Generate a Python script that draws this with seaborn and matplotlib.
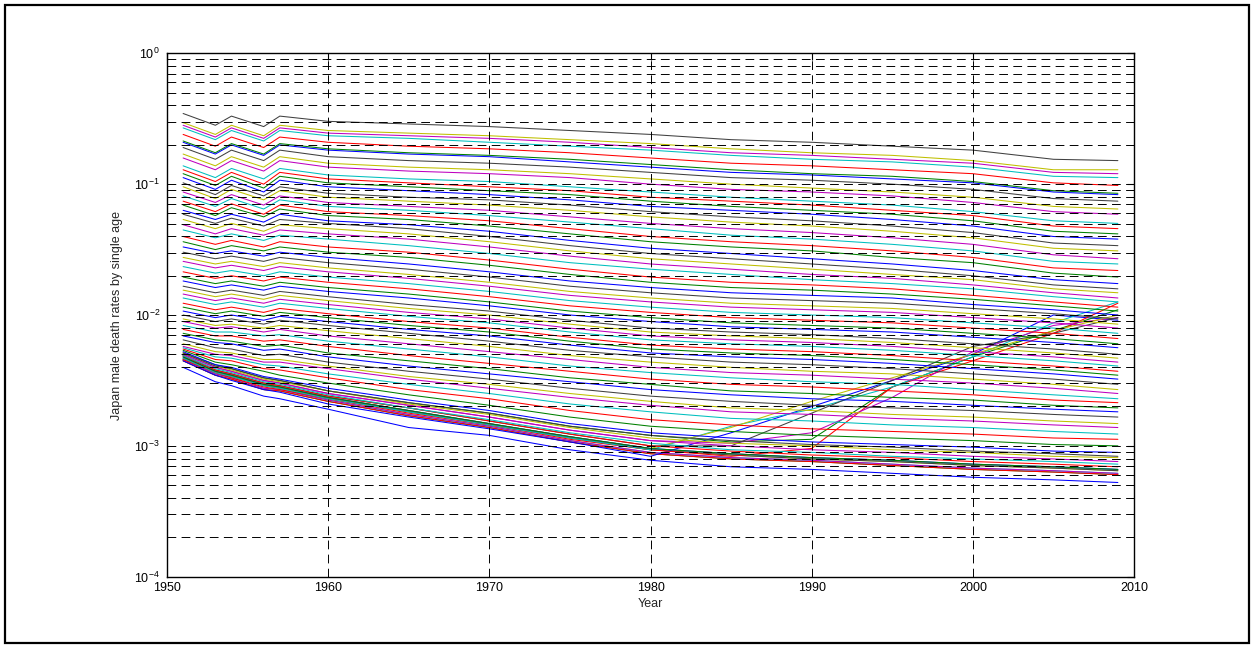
import numpy as np
import pandas as pd
import matplotlib
matplotlib.use("Agg")
import matplotlib.pyplot as plt
import seaborn as sns
from matplotlib.patches import Rectangle
from matplotlib.ticker import LogLocator, NullFormatter, FixedLocator

# ---------------- data (log10 of death rate), ages 20..89 ----------------
YEARS = [1951, 1953, 1954, 1956, 1957, 1960, 1965, 1970, 1975, 1980, 1985, 1990, 1995, 2000, 2005, 2009]
AGES = list(range(20, 90))

LOG10_RATE_1951 = [-2.40, -2.35, -2.35, -2.34, -2.34, -2.33, -2.33, -2.32, -2.32, -2.31,
                   -2.31, -2.30, -2.29, -2.29, -2.28, -2.27, -2.26, -2.25, -2.24, -2.22,
                   -2.19, -2.16, -2.14, -2.11, -2.08, -2.05, -2.03, -2.00, -1.97, -1.94,
                   -1.91, -1.87, -1.84, -1.81, -1.78, -1.74, -1.71, -1.67, -1.63, -1.59,
                   -1.56, -1.52, -1.48, -1.44, -1.40, -1.35, -1.31, -1.27, -1.23, -1.20,
                   -1.16, -1.13, -1.09, -1.06, -1.02, -0.99, -0.95, -0.92, -0.89, -0.86,
                   -0.80, -0.77, -0.72, -0.68, -0.67, -0.62, -0.57, -0.55, -0.53, -0.46]
LOG10_RATE_1953 = [-2.51, -2.46, -2.46, -2.45, -2.45, -2.44, -2.44, -2.43, -2.43, -2.42,
                   -2.41, -2.40, -2.39, -2.39, -2.38, -2.36, -2.34, -2.32, -2.30, -2.28,
                   -2.25, -2.21, -2.19, -2.16, -2.13, -2.10, -2.08, -2.05, -2.02, -1.99,
                   -1.96, -1.92, -1.89, -1.86, -1.83, -1.79, -1.76, -1.72, -1.68, -1.64,
                   -1.61, -1.57, -1.53, -1.50, -1.46, -1.41, -1.38, -1.34, -1.30, -1.27,
                   -1.24, -1.21, -1.17, -1.14, -1.11, -1.08, -1.04, -1.01, -0.98, -0.95,
                   -0.89, -0.86, -0.81, -0.77, -0.76, -0.71, -0.66, -0.64, -0.62, -0.55]
LOG10_RATE_1954 = [-2.54, -2.49, -2.49, -2.48, -2.48, -2.47, -2.47, -2.46, -2.46, -2.45,
                   -2.44, -2.43, -2.42, -2.41, -2.40, -2.38, -2.35, -2.33, -2.31, -2.29,
                   -2.26, -2.22, -2.20, -2.16, -2.13, -2.09, -2.07, -2.03, -2.00, -1.97,
                   -1.94, -1.90, -1.87, -1.84, -1.81, -1.77, -1.74, -1.70, -1.66, -1.62,
                   -1.59, -1.55, -1.51, -1.47, -1.43, -1.38, -1.34, -1.30, -1.26, -1.23,
                   -1.18, -1.15, -1.11, -1.08, -1.04, -1.01, -0.97, -0.94, -0.91, -0.88,
                   -0.82, -0.79, -0.74, -0.70, -0.69, -0.64, -0.59, -0.57, -0.55, -0.48]
LOG10_RATE_1956 = [-2.62, -2.57, -2.57, -2.56, -2.56, -2.54, -2.54, -2.53, -2.53, -2.52,
                   -2.51, -2.50, -2.49, -2.48, -2.47, -2.43, -2.41, -2.38, -2.36, -2.34,
                   -2.31, -2.27, -2.24, -2.20, -2.16, -2.13, -2.10, -2.07, -2.04, -2.01,
                   -1.98, -1.94, -1.91, -1.88, -1.85, -1.81, -1.78, -1.74, -1.70, -1.66,
                   -1.63, -1.59, -1.55, -1.51, -1.48, -1.43, -1.39, -1.36, -1.32, -1.29,
                   -1.25, -1.23, -1.19, -1.16, -1.12, -1.09, -1.06, -1.03, -1.00, -0.96,
                   -0.90, -0.87, -0.82, -0.78, -0.77, -0.72, -0.67, -0.65, -0.63, -0.56]
LOG10_RATE_1957 = [-2.64, -2.58, -2.58, -2.57, -2.57, -2.56, -2.56, -2.55, -2.55, -2.54,
                   -2.53, -2.52, -2.51, -2.50, -2.49, -2.46, -2.42, -2.39, -2.36, -2.34,
                   -2.30, -2.26, -2.23, -2.19, -2.15, -2.11, -2.08, -2.04, -2.01, -1.98,
                   -1.95, -1.91, -1.88, -1.85, -1.82, -1.78, -1.75, -1.71, -1.67, -1.63,
                   -1.60, -1.56, -1.52, -1.48, -1.44, -1.39, -1.35, -1.31, -1.27, -1.23,
                   -1.19, -1.16, -1.12, -1.09, -1.05, -1.02, -0.97, -0.94, -0.91, -0.88,
                   -0.82, -0.79, -0.74, -0.70, -0.69, -0.64, -0.59, -0.57, -0.55, -0.48]
LOG10_RATE_1960 = [-2.72, -2.66, -2.66, -2.65, -2.65, -2.64, -2.64, -2.63, -2.63, -2.62,
                   -2.61, -2.60, -2.58, -2.58, -2.56, -2.52, -2.48, -2.45, -2.41, -2.39,
                   -2.36, -2.32, -2.29, -2.24, -2.20, -2.16, -2.12, -2.08, -2.05, -2.02,
                   -1.99, -1.95, -1.92, -1.89, -1.86, -1.82, -1.79, -1.75, -1.71, -1.67,
                   -1.64, -1.60, -1.56, -1.52, -1.48, -1.42, -1.38, -1.34, -1.30, -1.28,
                   -1.24, -1.21, -1.17, -1.14, -1.10, -1.07, -1.02, -0.99, -0.96, -0.93,
                   -0.87, -0.84, -0.79, -0.74, -0.73, -0.68, -0.63, -0.61, -0.59, -0.52]
LOG10_RATE_1965 = [-2.86, -2.77, -2.77, -2.76, -2.76, -2.74, -2.74, -2.73, -2.73, -2.71,
                   -2.71, -2.69, -2.68, -2.67, -2.65, -2.61, -2.57, -2.53, -2.49, -2.47,
                   -2.43, -2.39, -2.35, -2.31, -2.26, -2.22, -2.18, -2.14, -2.11, -2.08,
                   -2.05, -2.01, -1.98, -1.95, -1.92, -1.87, -1.84, -1.80, -1.76, -1.72,
                   -1.69, -1.65, -1.61, -1.56, -1.52, -1.47, -1.42, -1.38, -1.34, -1.31,
                   -1.27, -1.24, -1.20, -1.17, -1.13, -1.10, -1.05, -1.02, -0.99, -0.96,
                   -0.90, -0.87, -0.82, -0.77, -0.76, -0.71, -0.65, -0.63, -0.61, -0.54]
LOG10_RATE_1970 = [-2.92, -2.86, -2.86, -2.85, -2.85, -2.84, -2.84, -2.83, -2.83, -2.81,
                   -2.80, -2.78, -2.76, -2.75, -2.73, -2.69, -2.64, -2.60, -2.56, -2.53,
                   -2.49, -2.45, -2.41, -2.37, -2.32, -2.28, -2.24, -2.20, -2.16, -2.13,
                   -2.10, -2.06, -2.03, -2.00, -1.97, -1.93, -1.90, -1.86, -1.82, -1.78,
                   -1.75, -1.71, -1.67, -1.62, -1.58, -1.53, -1.48, -1.44, -1.40, -1.36,
                   -1.32, -1.28, -1.24, -1.20, -1.16, -1.12, -1.08, -1.05, -1.02, -0.98,
                   -0.92, -0.89, -0.84, -0.79, -0.78, -0.73, -0.68, -0.65, -0.63, -0.56]
LOG10_RATE_1975 = [-3.03, -2.97, -2.97, -2.96, -2.96, -2.94, -2.94, -2.93, -2.93, -2.91,
                   -2.90, -2.88, -2.86, -2.85, -2.83, -2.78, -2.73, -2.68, -2.63, -2.60,
                   -2.56, -2.51, -2.48, -2.43, -2.39, -2.34, -2.31, -2.27, -2.23, -2.20,
                   -2.17, -2.13, -2.10, -2.07, -2.04, -2.00, -1.97, -1.93, -1.89, -1.85,
                   -1.82, -1.78, -1.74, -1.69, -1.65, -1.60, -1.55, -1.51, -1.47, -1.43,
                   -1.38, -1.34, -1.29, -1.25, -1.20, -1.16, -1.12, -1.08, -1.05, -1.02,
                   -0.95, -0.92, -0.87, -0.83, -0.81, -0.76, -0.71, -0.68, -0.66, -0.59]
LOG10_RATE_1980 = [-3.11, -3.06, -3.06, -3.05, -3.05, -3.03, -3.03, -3.02, -3.02, -3.00,
                   -2.98, -2.96, -2.94, -2.92, -2.90, -2.85, -2.80, -2.74, -2.69, -2.66,
                   -2.62, -2.57, -2.53, -2.49, -2.44, -2.40, -2.36, -2.32, -2.29, -2.26,
                   -2.23, -2.19, -2.16, -2.13, -2.10, -2.05, -2.02, -1.98, -1.94, -1.90,
                   -1.87, -1.83, -1.79, -1.75, -1.71, -1.65, -1.61, -1.57, -1.53, -1.49,
                   -1.44, -1.40, -1.34, -1.30, -1.25, -1.21, -1.17, -1.13, -1.10, -1.06,
                   -1.00, -0.96, -0.91, -0.87, -0.85, -0.80, -0.74, -0.72, -0.69, -0.62]
LOG10_RATE_1985 = [-3.16, -3.10, -3.10, -3.09, -3.09, -3.07, -3.07, -3.06, -3.06, -3.04,
                   -3.03, -3.00, -2.98, -2.96, -2.94, -2.89, -2.84, -2.79, -2.74, -2.71,
                   -2.66, -2.61, -2.58, -2.53, -2.48, -2.44, -2.40, -2.36, -2.32, -2.29,
                   -2.26, -2.22, -2.19, -2.16, -2.13, -2.09, -2.06, -2.02, -1.98, -1.94,
                   -1.91, -1.87, -1.83, -1.79, -1.75, -1.69, -1.65, -1.61, -1.57, -1.53,
                   -1.48, -1.44, -1.39, -1.34, -1.29, -1.25, -1.20, -1.17, -1.13, -1.10,
                   -1.04, -1.00, -0.95, -0.91, -0.89, -0.84, -0.78, -0.76, -0.73, -0.66]
LOG10_RATE_1990 = [-3.18, -3.12, -3.12, -3.11, -3.11, -3.10, -3.10, -3.09, -3.09, -3.07,
                   -3.05, -3.03, -3.00, -2.99, -2.97, -2.92, -2.87, -2.81, -2.76, -2.73,
                   -2.69, -2.64, -2.60, -2.55, -2.51, -2.46, -2.43, -2.38, -2.34, -2.31,
                   -2.28, -2.24, -2.21, -2.18, -2.15, -2.11, -2.08, -2.04, -2.00, -1.96,
                   -1.93, -1.89, -1.85, -1.81, -1.77, -1.73, -1.69, -1.65, -1.61, -1.57,
                   -1.51, -1.47, -1.42, -1.37, -1.32, -1.28, -1.23, -1.20, -1.16, -1.13,
                   -1.06, -1.03, -0.97, -0.93, -0.92, -0.86, -0.81, -0.78, -0.76, -0.68]
LOG10_RATE_1995 = [-3.21, -3.15, -3.15, -3.14, -3.14, -3.12, -3.12, -3.11, -3.11, -3.09,
                   -3.08, -3.05, -3.03, -3.01, -2.99, -2.94, -2.89, -2.84, -2.79, -2.76,
                   -2.71, -2.66, -2.63, -2.58, -2.53, -2.49, -2.45, -2.41, -2.37, -2.34,
                   -2.31, -2.27, -2.24, -2.21, -2.18, -2.13, -2.10, -2.06, -2.02, -1.98,
                   -1.95, -1.91, -1.87, -1.84, -1.80, -1.76, -1.72, -1.69, -1.65, -1.61,
                   -1.56, -1.51, -1.46, -1.41, -1.36, -1.32, -1.27, -1.23, -1.20, -1.16,
                   -1.09, -1.06, -1.00, -0.96, -0.94, -0.89, -0.83, -0.81, -0.78, -0.71]
LOG10_RATE_2000 = [-3.24, -3.18, -3.18, -3.17, -3.17, -3.15, -3.15, -3.14, -3.14, -3.12,
                   -3.10, -3.08, -3.05, -3.04, -3.01, -2.96, -2.91, -2.86, -2.81, -2.78,
                   -2.73, -2.69, -2.65, -2.61, -2.57, -2.52, -2.49, -2.45, -2.41, -2.38,
                   -2.35, -2.31, -2.28, -2.25, -2.22, -2.17, -2.14, -2.10, -2.06, -2.02,
                   -1.99, -1.95, -1.92, -1.88, -1.85, -1.80, -1.77, -1.73, -1.70, -1.66,
                   -1.60, -1.56, -1.51, -1.46, -1.41, -1.37, -1.32, -1.28, -1.24, -1.21,
                   -1.14, -1.10, -1.04, -0.99, -0.98, -0.92, -0.87, -0.84, -0.82, -0.74]
LOG10_RATE_2005 = [-3.26, -3.20, -3.20, -3.19, -3.19, -3.17, -3.17, -3.16, -3.16, -3.14,
                   -3.12, -3.10, -3.08, -3.06, -3.04, -2.99, -2.94, -2.89, -2.84, -2.81,
                   -2.76, -2.72, -2.69, -2.65, -2.61, -2.56, -2.53, -2.49, -2.45, -2.42,
                   -2.39, -2.35, -2.32, -2.29, -2.26, -2.21, -2.18, -2.14, -2.10, -2.06,
                   -2.03, -1.99, -1.96, -1.93, -1.90, -1.86, -1.83, -1.80, -1.77, -1.73,
                   -1.68, -1.64, -1.59, -1.54, -1.49, -1.45, -1.40, -1.36, -1.32, -1.28,
                   -1.21, -1.17, -1.11, -1.06, -1.05, -0.99, -0.94, -0.91, -0.89, -0.81]
LOG10_RATE_2009 = [-3.28, -3.22, -3.22, -3.21, -3.21, -3.19, -3.19, -3.18, -3.18, -3.16,
                   -3.14, -3.12, -3.09, -3.08, -3.05, -3.00, -2.95, -2.91, -2.86, -2.83,
                   -2.78, -2.74, -2.71, -2.67, -2.64, -2.60, -2.57, -2.53, -2.49, -2.46,
                   -2.43, -2.39, -2.36, -2.33, -2.30, -2.25, -2.22, -2.18, -2.14, -2.10,
                   -2.07, -2.03, -2.00, -1.97, -1.94, -1.90, -1.87, -1.83, -1.80, -1.76,
                   -1.71, -1.66, -1.61, -1.57, -1.51, -1.47, -1.42, -1.38, -1.34, -1.30,
                   -1.23, -1.19, -1.13, -1.08, -1.07, -1.01, -0.95, -0.92, -0.89, -0.82]

ROWS = [LOG10_RATE_1951, LOG10_RATE_1953, LOG10_RATE_1954, LOG10_RATE_1956, LOG10_RATE_1957,
        LOG10_RATE_1960, LOG10_RATE_1965, LOG10_RATE_1970, LOG10_RATE_1975, LOG10_RATE_1980,
        LOG10_RATE_1985, LOG10_RATE_1990, LOG10_RATE_1995, LOG10_RATE_2000, LOG10_RATE_2005,
        LOG10_RATE_2009]

# seven series that leave the young-age bundle and climb in the later years
RISING_BLUE    = [-2.35, -2.46, -2.50, -2.57, -2.59, -2.68, -2.78, -2.87, -2.97, -3.08, -2.90, -2.70, -2.50, -2.30, -2.00, -2.04]
RISING_GREEN   = [-2.29, -2.38, -2.41, -2.48, -2.50, -2.58, -2.67, -2.75, -2.85, -2.92, -2.97, -2.95, -2.55, -2.32, -2.12, -1.96]
RISING_RED     = [-2.34, -2.44, -2.48, -2.55, -2.57, -2.64, -2.75, -2.84, -2.95, -3.03, -3.08, -3.02, -2.55, -2.35, -2.14, -1.91]
RISING_CYAN    = [-2.33, -2.44, -2.47, -2.54, -2.56, -2.64, -2.74, -2.84, -2.94, -3.03, -2.85, -2.72, -2.55, -2.32, -2.06, -1.90]
RISING_MAGENTA = [-2.30, -2.40, -2.43, -2.50, -2.52, -2.60, -2.69, -2.78, -2.88, -2.96, -2.98, -2.90, -2.63, -2.28, -2.08, -2.02]
RISING_YELLOW  = [-2.32, -2.43, -2.46, -2.53, -2.55, -2.63, -2.73, -2.83, -2.93, -3.02, -2.86, -2.66, -2.48, -2.30, -2.12, -2.00]
RISING_BLACK   = [-2.31, -2.42, -2.45, -2.52, -2.54, -2.62, -2.71, -2.81, -2.91, -3.00, -3.00, -2.75, -2.50, -2.24, -2.14, -2.02]
RISING = [RISING_BLUE, RISING_GREEN, RISING_RED, RISING_CYAN, RISING_MAGENTA, RISING_YELLOW, RISING_BLACK]

X_TICKS = [1950, 1960, 1970, 1980, 1990, 2000, 2010]
X_LABEL = "Year"
Y_LABEL = "Japan male death rates by single age"

# MATLAB classic color order
COLOR_ORDER = [(0, 0, 1), (0, 0.5, 0), (1, 0, 0), (0, 0.75, 0.75),
               (0.75, 0, 0.75), (0.75, 0.75, 0), (0.25, 0.25, 0.25)]

# ---------------- build long table ----------------
series = []
for r in range(len(AGES)):
    series.append([row[r] for row in ROWS])
all_series = series[:7] + RISING + series[7:]

records = []
for k, vals in enumerate(all_series):
    for yr, lv in zip(YEARS, vals):
        records.append({"line": f"s{k:02d}", "year": yr, "rate": 10.0 ** lv})
df = pd.DataFrame(records)
order = [f"s{k:02d}" for k in range(len(all_series))]
palette = {name: COLOR_ORDER[k % 7] for k, name in enumerate(order)}

# ---------------- figure ----------------
sns.set_style("white")
plt.rcParams["font.family"] = ["Liberation Sans", "DejaVu Sans"]
plt.rcParams["mathtext.fontset"] = "custom"
plt.rcParams["mathtext.rm"] = "Liberation Sans"
plt.rcParams["mathtext.it"] = "Liberation Sans"
plt.rcParams["axes.unicode_minus"] = False

fig = plt.figure(figsize=(12.55, 6.48), dpi=100)
ax = fig.add_axes([167 / 1255, 1 - 576.7 / 648, (1134 - 167) / 1255, (576.7 - 53.3) / 648])

sns.lineplot(data=df, x="year", y="rate", hue="line", hue_order=order, palette=palette,
             estimator=None, legend=False, linewidth=0.75, ax=ax)

ax.set_yscale("log")
ax.set_xlim(1950, 2010)
ax.set_ylim(1e-4, 1)
ax.xaxis.set_major_locator(FixedLocator(X_TICKS))
ax.yaxis.set_major_locator(LogLocator(base=10, numticks=10))
ax.yaxis.set_minor_locator(LogLocator(base=10, subs=np.arange(2, 10), numticks=20))
ax.yaxis.set_minor_formatter(NullFormatter())

ax.set_axisbelow(False)
dash = (0, (9, 5.5))
ax.grid(True, which="major", axis="both", color="black", linestyle=dash, linewidth=0.7)
ax.grid(True, which="minor", axis="y", color="black", linestyle=dash, linewidth=0.7)

for sp in ax.spines.values():
    sp.set_visible(True)
    sp.set_color("black")
    sp.set_linewidth(1.0)

ax.tick_params(which="both", direction="in", top=True, right=True, labelsize=9, colors="black")
ax.tick_params(which="major", length=5, width=0.8)
ax.tick_params(which="minor", length=3, width=0.6)
ax.tick_params(axis="y", which="major", pad=5)
ax.tick_params(axis="x", which="major", pad=4)

ax.set_xlabel(X_LABEL, fontsize=9, labelpad=3)
ax.set_ylabel(Y_LABEL, fontsize=9, labelpad=8)

fig.patches.append(Rectangle((5 / 1255, 5 / 648), 1244 / 1255, 638 / 648,
                             transform=fig.transFigure, fill=False, lw=1.6, ec="black"))

fig.savefig("out.png", dpi=100, facecolor="white")
